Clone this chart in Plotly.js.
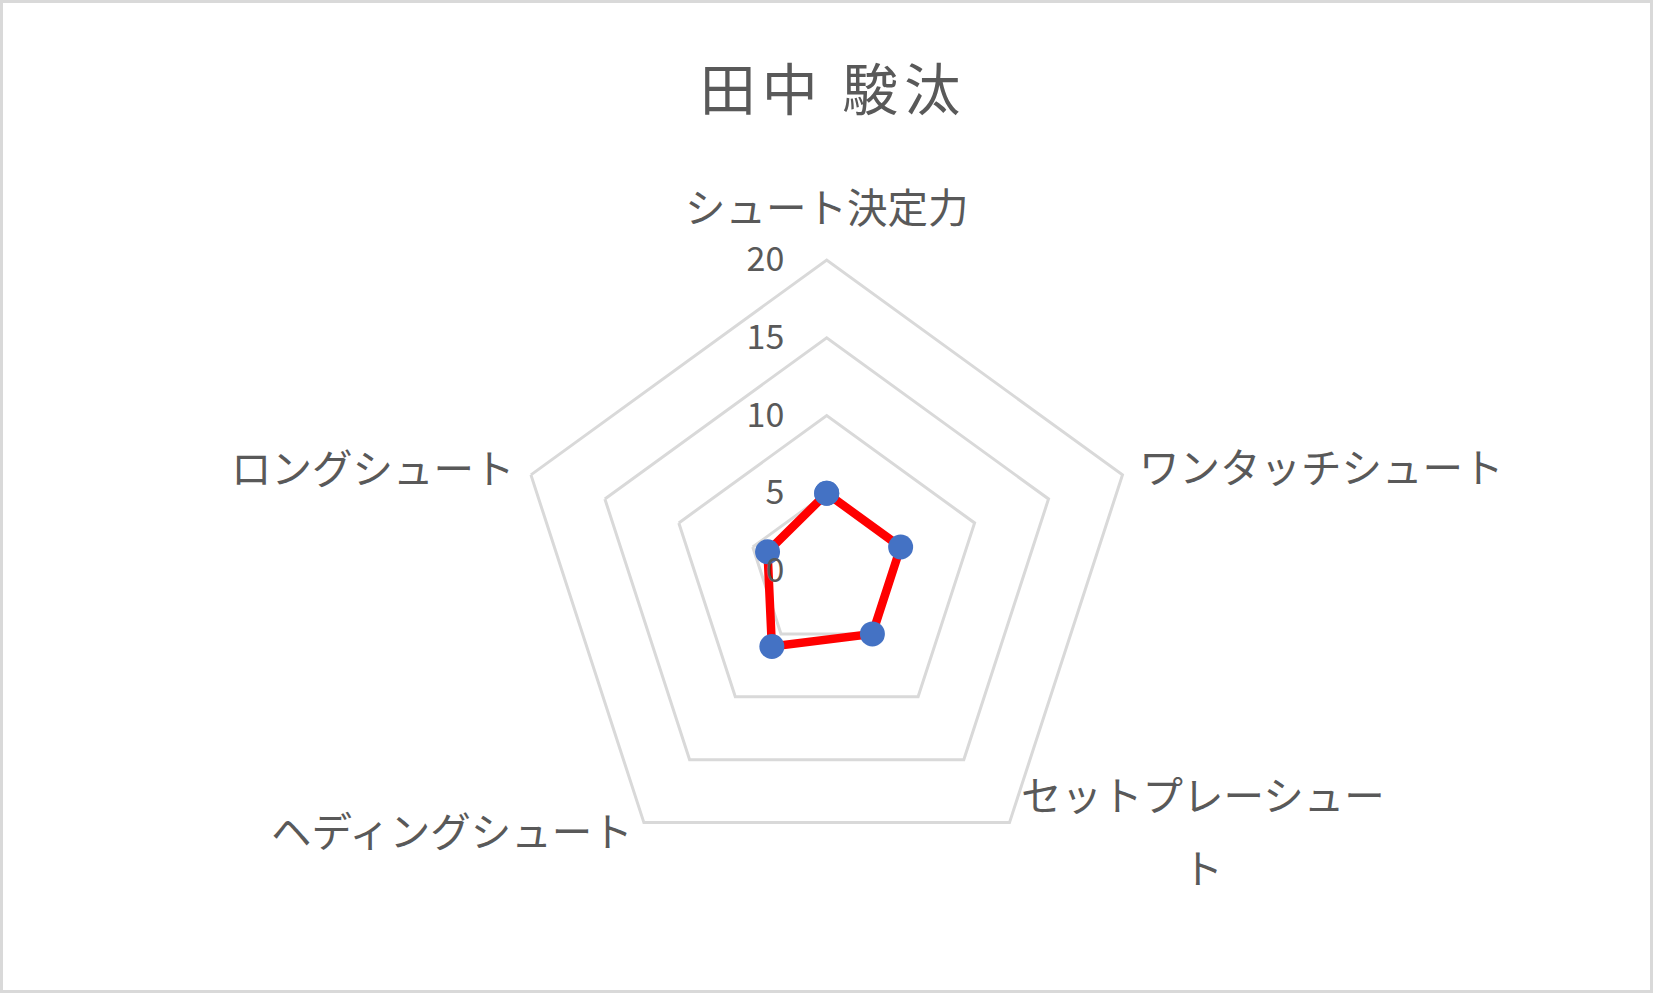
<!DOCTYPE html>
<html>
<head>
<meta charset="utf-8">
<script src="https://cdn.plot.ly/plotly-3.0.1.min.js"></script>
<style>
html,body{margin:0;padding:0;background:#ffffff;}
#wrap{position:relative;width:1653px;height:993px;}
#chart{width:1653px;height:993px;}
#frame{position:absolute;left:0;top:0;width:1653px;height:993px;box-sizing:border-box;border:3px solid #d9d9d9;pointer-events:none;}
</style>
</head>
<body>
<div id="wrap"><div id="chart"></div><div id="frame"></div></div>
<script>
const chartTitle = "田中 駿汰";
const categories = ["シュート決定力", "ワンタッチシュート", "セットプレーシュート", "ヘディングシュート", "ロングシュート"];
const categoryLabelLines = [["シュート決定力"], ["ワンタッチシュート"], ["セットプレーシュー", "ト"], ["ヘディングシュート"], ["ロングシュート"]];
const values = [5, 5, 5, 6, 4];
const radialTicks = [0, 5, 10, 15, 20];

// ---- styling / layout config ----
const W = 1653, H = 993;
const FONT = '"Noto Sans CJK JP", "Noto Sans", sans-serif';
const GRID = '#d9d9d9';
const TEXT = '#595959';
const LABEL_SIZE = 40.5;
const MULTI_LINE_SIZE = 56;
const domainX = [515.7 / W, 1137.7 / W];
const domainY = [1 - 882 / H, 1 - 260 / H];
// label placement relative to each outer vertex (screen px, +dy = down)
const labelPlace = [
  {xanchor: 'center', dx: 0, dy: -55},
  {xanchor: 'left', dx: 15, dy: -9},
  {xanchor: 'left', dx: 9, dy: 7},
  {xanchor: 'right', dx: -9, dy: 6.5},
  {xanchor: 'right', dx: -14, dy: -8.5}
];

const thetaClosed = categories.concat([categories[0]]);
const rClosed = values.concat([values[0]]);

// polar geometry (same rule Plotly uses: circle fitted in the domain)
const pw = W * (domainX[1] - domainX[0]);
const ph = H * (domainY[1] - domainY[0]);
const R = Math.min(pw, ph) / 2;
const cx = W * (domainX[0] + domainX[1]) / 2;
const cy = H * (1 - (domainY[0] + domainY[1]) / 2);

const annotations = categories.map(function (c, i) {
  const a = (90 - 360 * i / categories.length) * Math.PI / 180;
  const vx = cx + R * Math.cos(a);
  const vy = cy - R * Math.sin(a);
  const p = labelPlace[i];
  const lines = categoryLabelLines[i];
  const multi = lines.length > 1;
  const txt = multi
    ? lines.map(function (l) { return '<span style="font-size:' + LABEL_SIZE + 'px">' + l + '</span>'; }).join('<br>')
    : lines[0];
  return {
    xref: 'paper', yref: 'paper',
    x: vx / W, y: 1 - vy / H,
    xanchor: p.xanchor, yanchor: 'middle',
    xshift: p.dx, yshift: -p.dy,
    text: txt,
    showarrow: false,
    align: 'center',
    font: {family: FONT, size: multi ? MULTI_LINE_SIZE : LABEL_SIZE, color: TEXT}
  };
});

const data = [{
  type: 'scatterpolar',
  r: rClosed,
  theta: thetaClosed,
  mode: 'lines+markers',
  line: {color: '#ff0000', width: 8.5},
  marker: {color: '#4472c4', size: 25},
  hoverinfo: 'r+theta',
  showlegend: false
}];

const layout = {
  width: W,
  height: H,
  margin: {l: 0, r: 0, t: 0, b: 0},
  paper_bgcolor: '#ffffff',
  font: {family: FONT, color: TEXT},
  title: {
    text: chartTitle,
    font: {family: FONT, size: 56, color: TEXT},
    x: 833 / W, xanchor: 'center',
    y: 1 - 90 / H, yanchor: 'middle'
  },
  annotations: annotations,
  polar: {
    domain: {x: domainX, y: domainY},
    bgcolor: 'rgba(0,0,0,0)',
    gridshape: 'linear',
    angularaxis: {
      type: 'category',
      categoryarray: categories,
      direction: 'clockwise',
      rotation: 90,
      showticklabels: false,
      showline: true,
      linecolor: GRID,
      linewidth: 3,
      showgrid: false,
      ticks: ''
    },
    radialaxis: {
      range: [0, 20],
      tickmode: 'array',
      tickvals: radialTicks,
      ticktext: radialTicks.map(String),
      angle: 90,
      side: 'counterclockwise',
      tickangle: 90,
      showline: false,
      showgrid: true,
      gridcolor: GRID,
      gridwidth: 3,
      ticks: 'outside',
      ticklen: 30,
      tickcolor: 'rgba(0,0,0,0)',
      tickfont: {family: FONT, size: 34, color: TEXT}
    }
  }
};

Plotly.newPlot('chart', data, layout, {displayModeBar: false, staticPlot: true}).then(function () {
  document.querySelectorAll('#chart .gtitle').forEach(function (t) { t.style.letterSpacing = '6px'; });
});
</script>
</body>
</html>
